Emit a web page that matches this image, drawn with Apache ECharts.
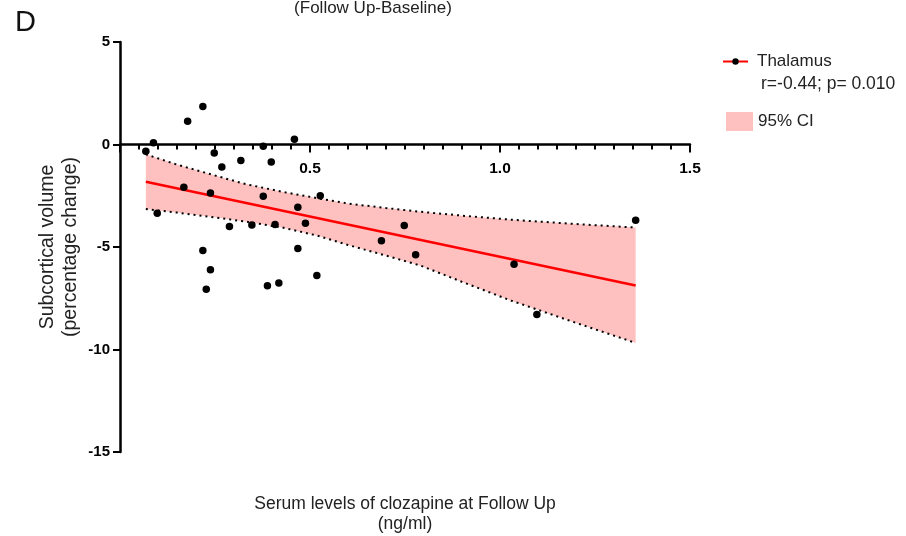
<!DOCTYPE html>
<html>
<head>
<meta charset="utf-8">
<script src="https://cdn.jsdelivr.net/npm/echarts@6/dist/echarts.min.js"></script>
<style>
  html, body { margin: 0; padding: 0; background: #fff; }
  #main { width: 906px; height: 536px; }
</style>
</head>
<body>
<div id="main"></div>
<script>
// scatter points: [serum level, % change]
var points = [
  [0.068, -0.33], [0.088, 0.08], [0.098, -3.35], [0.178, 1.14], [0.218, 1.85],
  [0.168, -2.08], [0.248, -0.41], [0.238, -2.36], [0.268, -1.10], [0.218, -5.17],
  [0.238, -6.11], [0.227, -7.06], [0.288, -4.00], [0.318, -0.78], [0.347, -3.93],
  [0.377, -0.08], [0.377, -2.52], [0.388, -6.89], [0.398, -0.85], [0.408, -3.90],
  [0.418, -6.76], [0.459, 0.26], [0.468, -3.06], [0.468, -5.07], [0.488, -3.84],
  [0.527, -2.50], [0.518, -6.39], [0.688, -4.70], [0.748, -3.95], [0.778, -5.38],
  [1.037, -5.84], [1.097, -8.29], [1.357, -3.69]
];
// fitted line end points
var fitLine = [[0.068, -1.82], [1.357, -6.88]];
// 95% CI band
var ciX     = [0.068, 0.15, 0.24, 0.33, 0.43, 0.52, 0.60, 0.70, 0.79, 0.90, 1.03, 1.20, 1.357];
var ciUpper = [-0.48, -0.98, -1.46, -1.93, -2.32, -2.62, -2.88, -3.10, -3.28, -3.47, -3.67, -3.88, -4.05];
var ciLower = [-3.15, -3.32, -3.53, -3.76, -4.06, -4.45, -4.90, -5.42, -5.90, -6.70, -7.62, -8.70, -9.68];
var xTicks = { min: 0, max: 1.5, interval: 0.5 };
var yTicks = { min: -15, max: 5, interval: 5 };

var upperData = ciX.map(function (x, i) { return [x, ciUpper[i]]; });
var lowerData = ciX.map(function (x, i) { return [x, ciLower[i]]; });

var myChart = echarts.init(document.getElementById('main'));
var font = 'Liberation Sans, Arial, sans-serif';

option = {
  animation: false,
  textStyle: { fontFamily: font },
  grid: { left: 120, right: 216, top: 42, bottom: 84 },
  legend: [
    {
      data: ['Thalamus'],
      left: 717, top: 48,
      itemWidth: 25, itemHeight: 8,
      textStyle: { fontSize: 17, color: '#222', fontFamily: font, padding: [0, 0, 0, 4] }
    },
    {
      data: [{ name: '95% CI', icon: 'rect' }],
      left: 721, top: 107,
      itemWidth: 27, itemHeight: 19,
      textStyle: { fontSize: 17, color: '#222', fontFamily: font }
    }
  ],
  graphic: [
    { type: 'text', left: 15, top: 8, style: { text: 'D', fontSize: 29, fill: '#111', fontFamily: font } },
    { type: 'text', x: 373, y: 8, style: { text: '(Follow Up-Baseline)', fontSize: 17, fill: '#222', fontFamily: font, align: 'center', verticalAlign: 'middle' } },
    { type: 'text', x: 761, y: 84, style: { text: 'r=-0.44; p= 0.010', fontSize: 17.5, fill: '#222', fontFamily: font, verticalAlign: 'middle' } },
    { type: 'text', x: 405, y: 514, style: { text: 'Serum levels of clozapine at Follow Up\n(ng/ml)', fontSize: 17.5, lineHeight: 20, fill: '#222', fontFamily: font, align: 'center', verticalAlign: 'middle' } }
  ],
  xAxis: {
    type: 'value',
    min: xTicks.min, max: xTicks.max, interval: xTicks.interval,
    axisLine: { onZero: true, lineStyle: { color: '#000', width: 2.5 } },
    axisTick: { show: true, length: 8, lineStyle: { color: '#000', width: 2 } },
    minorTick: { show: true, splitNumber: 10, length: 5, lineStyle: { color: '#000', width: 2 } },
    axisLabel: {
      showMinLabel: false, margin: -291,
      fontSize: 15.5, fontWeight: 'bold', color: '#000',
      formatter: function (v) { return v.toFixed(1); }
    },
    splitLine: { show: false }
  },
  yAxis: {
    type: 'value',
    min: yTicks.min, max: yTicks.max, interval: yTicks.interval,
    name: 'Subcortical volume\n(percentage change)',
    nameLocation: 'middle', nameGap: 38, nameRotate: 90,
    nameMoveOverlap: false,
    nameTextStyle: { fontSize: 19.5, lineHeight: 23, color: '#222', fontFamily: font },
    axisLine: { show: true, onZero: false, lineStyle: { color: '#000', width: 2.5 } },
    axisTick: { show: true, length: 7, lineStyle: { color: '#000', width: 2 } },
    axisLabel: { margin: 10, fontSize: 15, fontWeight: 'bold', color: '#000' },
    splitLine: { show: false }
  },
  series: [
    {
      name: '95% CI',
      type: 'custom',
      itemStyle: { color: '#FFC0C0' },
      data: [[ciX[0], ciUpper[0]]],
      silent: true,
      renderItem: function (params, api) {
        var pts = [];
        for (var i = 0; i < ciX.length; i++) pts.push(api.coord([ciX[i], ciUpper[i]]));
        for (var j = ciX.length - 1; j >= 0; j--) pts.push(api.coord([ciX[j], ciLower[j]]));
        return { type: 'polygon', shape: { points: pts }, style: { fill: '#FFC0C0' } };
      },
      z: 1
    },
    {
      type: 'line', data: upperData, symbol: 'none',
      lineStyle: { color: '#000', width: 2, type: [2, 4] }, z: 2
    },
    {
      type: 'line', data: lowerData, symbol: 'none',
      lineStyle: { color: '#000', width: 2, type: [2, 4] }, z: 2
    },
    {
      name: 'Thalamus',
      type: 'line', data: fitLine,
      symbol: 'circle', symbolSize: 7, showSymbol: false,
      itemStyle: { color: '#000' },
      lineStyle: { color: '#FF0000', width: 2.5 }, z: 3
    },
    {
      type: 'scatter', data: points,
      symbol: 'circle', symbolSize: 7.5,
      itemStyle: { color: '#000', opacity: 1 }, z: 4
    }
  ]
};
myChart.setOption(option);
</script>
</body>
</html>
